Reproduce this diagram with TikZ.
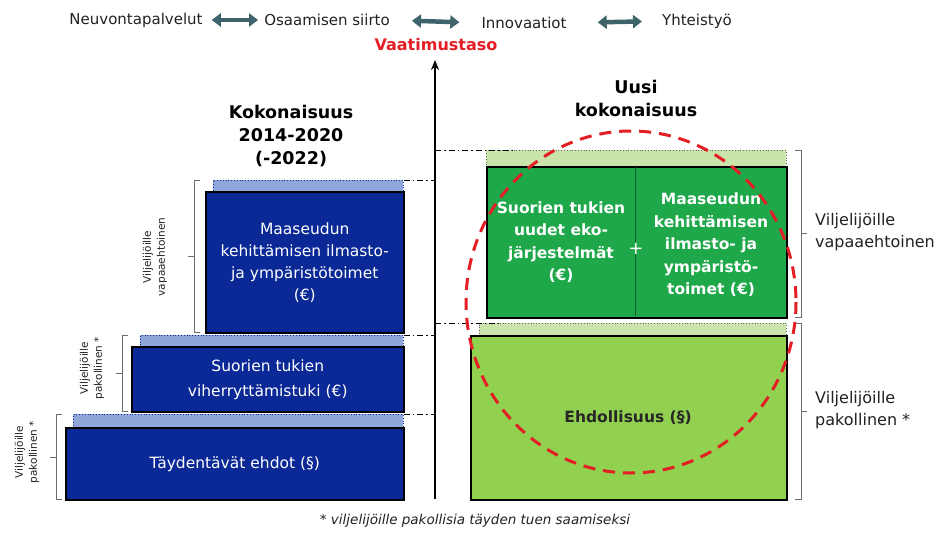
\documentclass[tikz,border=0pt]{standalone}
\usepackage{fontspec}
\setmainfont{DejaVu Sans}
\usetikzlibrary{arrows.meta,shapes.geometric}
\definecolor{dblue}{HTML}{0A2896}
\definecolor{lblue}{HTML}{8EA6DA}
\definecolor{dgreen}{HTML}{1FA84A}
\definecolor{lgreen}{HTML}{92D050}
\definecolor{pgreen}{HTML}{CBE4AC}
\definecolor{arrteal}{HTML}{3E636B}
\definecolor{vred}{HTML}{E31E24}
\definecolor{brgray}{HTML}{6E6E6E}
\definecolor{txtgray}{HTML}{222222}
\begin{document}
\begin{tikzpicture}[x=1pt,y=-1pt,
  toplabel/.style={font=\fontsize{15}{18}\selectfont, text=txtgray, inner sep=0pt},
  dblarrow/.style={arrteal, line width=4.5pt, {Triangle[length=9pt,width=13pt]}-{Triangle[length=9pt,width=13pt]}},
  header/.style={font=\bfseries\fontsize{17.5}{23}\selectfont, align=center, inner sep=0pt},
  bluebox/.style={draw=black, line width=1.5pt, fill=dblue, text=white, align=center, anchor=north west, inner sep=0pt, font=\fontsize{15.5}{22}\selectfont},
  bluestrip/.style={fill=lblue, draw=dblue, dotted, line width=0.8pt, anchor=north west, inner sep=0pt},
  greenstrip/.style={fill=pgreen, draw=black!60, dotted, line width=0.8pt, anchor=north west, inner sep=0pt},
  greenbox/.style={draw=black, line width=1.5pt, anchor=north west, inner sep=0pt},
  gtext/.style={text=white, align=center, font=\bfseries\fontsize{15.5}{22.5}\selectfont, inner sep=0pt},
  dashdotline/.style={black, line width=0.9pt, dash pattern=on 6pt off 3pt on 1.5pt off 3pt},
  bracket/.style={brgray, line width=0.8pt},
  rotlabel/.style={rotate=90, align=center, text=txtgray, font=\fontsize{10.5}{14}\selectfont, inner sep=0pt},
  sidelabel/.style={align=left, anchor=west, text=txtgray, font=\fontsize{16}{22}\selectfont, inner sep=0pt}]
\useasboundingbox (0,0) rectangle (952,533);
\fill[white] (0,0) rectangle (952,533);

% top row
\node[toplabel] (n1) at (136,20) {Neuvontapalvelut};
\node[toplabel] (n2) at (327,20) {Osaamisen siirto};
\node[toplabel] (n3) at (524,23) {Innovaatiot};
\node[toplabel] (n4) at (697,21) {Yhteistyö};
\draw[dblarrow, shorten <=9pt, shorten >=6pt] (n1.east) -- (n2.west);
\draw[dblarrow, shorten <=22pt, shorten >=22pt] (n2.east) -- (n3.west);
\draw[dblarrow, shorten <=31pt, shorten >=20pt] (n3.east) -- (n4.west);

% axis
\coordinate (axb) at (435,499);
\coordinate (axt) at (435,60);
\draw[line width=1.5pt, -{Stealth[length=10pt,width=8pt]}] (axb) -- (axt);
\node[font=\bfseries\fontsize{16}{19}\selectfont, text=vred, inner sep=0pt] (vt) at (436,45) {Vaatimustaso};

% headers
\node[header] (hl) at (291,136) {Kokonaisuus\\2014-2020\\(-2022)};
\node[header] (hr) at (636,98) {Uusi\\kokonaisuus};

% left stack
\node[bluestrip, minimum width=190pt, minimum height=11pt] (s3) at (213,180) {};
\node[bluebox, minimum width=198pt, minimum height=141pt] (b3) at (205,191) {Maaseudun\\kehittämisen ilmasto-\\ja ympäristötoimet\\(€)};
\node[bluestrip, minimum width=263pt, minimum height=11pt] (s2) at (140,335) {};
\node[bluebox, minimum width=272pt, minimum height=65pt, font=\fontsize{15.5}{25}\selectfont] (b2) at (131,346) {Suorien tukien\\viherryttämistuki (€)};
\node[bluestrip, minimum width=330pt, minimum height=13pt] (s1) at (73,414) {};
\node[bluebox, minimum width=338pt, minimum height=72pt] (b1) at (65,427) {Täydentävät ehdot (§)};

% dash-dot level lines
\draw[dashdotline] (s3.north east) -- (s3.north east -| axb);
\draw[dashdotline] (s2.north east) -- (s2.north east -| axb);
\draw[dashdotline] (s1.north east) -- (s1.north east -| axb);

% left brackets
\draw[bracket] (200,180) -- (194,180) -- (194,332) -- (200,332) (194,256) -- (188,256);
\draw[bracket] (128,335) -- (122,335) -- (122,411) -- (128,411) (122,373) -- (116,373);
\draw[bracket] (62,414) -- (56,414) -- (56,499) -- (62,499) (56,457) -- (50,457);
\node[rotlabel] (r3) at (155,257) {Viljelijöille\\vapaaehtoinen};
\node[rotlabel] (r2) at (92,368) {Viljelijöille\\pakollinen *};
\node[rotlabel] (r1) at (27,452) {Viljelijöille\\pakollinen *};

% right stack
\node[greenstrip, minimum width=300pt, minimum height=16pt] (gs1) at (486,150) {};
\node[greenbox, fill=dgreen, minimum width=300pt, minimum height=151pt] (g1) at (486,166) {};
\draw[black!45!dgreen, line width=0.6pt] (635,167) -- (635,316);
\node[gtext] (g1a) at (561,242) {Suorien tukien\\uudet eko-\\järjestelmät\\(€)};
\node[gtext, font=\fontsize{18}{20}\selectfont] (plus) at (636,249) {+};
\node[gtext] (g1b) at (711,245) {Maaseudun\\kehittämisen\\ilmasto- ja\\ympäristö-\\toimet (€)};
\node[greenstrip, minimum width=307pt, minimum height=12pt] (gs2) at (479,323) {};
\node[greenbox, fill=lgreen, minimum width=316pt, minimum height=164pt] (g2) at (470,335) {};
\node[font=\bfseries\fontsize{15.5}{19}\selectfont, text=black!85, inner sep=0pt] (g2t) at (628,418) {Ehdollisuus (§)};

\draw[dashdotline] (axb |- gs1.north west) -- ([xshift=30pt]gs1.north west);
\draw[dashdotline] (axb |- gs2.north west) -- ([xshift=20pt]gs2.north west);

% right brackets
\draw[bracket] (795,150) -- (801,150) -- (801,317) -- (795,317) (801,233) -- (807,233);
\draw[bracket] (795,323) -- (801,323) -- (801,499) -- (795,499) (801,411) -- (807,411);
\node[sidelabel] (rl1) at (815,232) {Viljelijöille\\vapaaehtoinen};
\node[sidelabel] (rl2) at (815,410) {Viljelijöille\\pakollinen *};

% red dashed ellipse
\draw[vred, line width=3pt, dash pattern=on 12pt off 8pt] (631,302) ellipse [x radius=165, y radius=171];

% footnote
\node[font=\itshape\fontsize{13.5}{16}\selectfont, text=txtgray, inner sep=0pt] (fn) at (475,521) {* viljelijöille pakollisia täyden tuen saamiseksi};
\end{tikzpicture}
\end{document}
